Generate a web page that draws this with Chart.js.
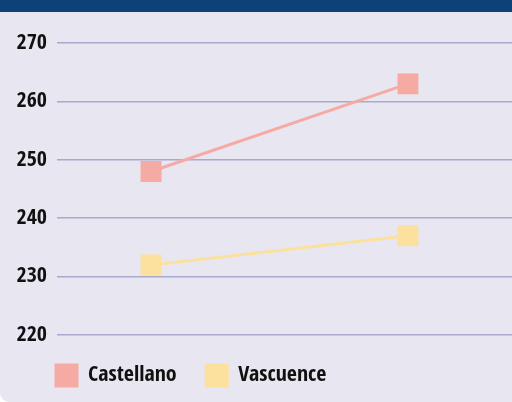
<!DOCTYPE html>
<html>
<head>
<meta charset="utf-8">
<script src="https://cdn.jsdelivr.net/npm/chart.js@4"></script>
<style>
    html, body { margin: 0; padding: 0; background: #ffffff; }
    #wrap {
        position: relative;
        width: 512px;
        height: 402px;
        background: #e8e7f1;
        border-bottom-left-radius: 9px;
        overflow: hidden;
    }
    #topbar {
        position: absolute;
        left: 0; top: 0;
        width: 512px; height: 12px;
        background: #0d4177;
    }
    canvas { position: absolute; left: 0; top: 0; }
</style>
</head>
<body>
<div id="wrap">
    <div id="topbar"></div>
    <canvas id="chart" width="512" height="402"></canvas>
</div>
<script>
// 데이터
const seriesNames = ['Castellano', 'Vascuence'];
const castellano = [248, 263];
const vascuence = [232, 237];
const yTicks = [220, 230, 240, 250, 260, 270];

const colors = ['#f5aba4', '#fce09e'];

const FONT = "'Open Sans Condensed', 'Roboto Condensed', sans-serif";

const ctx = document.getElementById('chart').getContext('2d');

const toPoints = arr => arr.map((v, i) => ({ x: i, y: v }));

// 범례를 왼쪽 여백에서 살짝 안쪽으로 이동
const legendShift = {
    id: 'legendShift',
    afterLayout(chart) {
        if (chart.legend) chart.legend.left = 26.5;
    }
};

new Chart(ctx, {
    type: 'line',
    data: {
        datasets: [castellano, vascuence].map((vals, i) => ({
            label: seriesNames[i],
            data: toPoints(vals),
            borderColor: colors[i],
            backgroundColor: colors[i],
            borderWidth: 3,
            pointStyle: 'rect',
            pointRadius: 14.8,
            pointHoverRadius: 14.8,
            pointBorderWidth: 0,
            fill: false,
            tension: 0
        }))
    },
    plugins: [legendShift],
    options: {
        responsive: false,
        animation: false,
        layout: {
            autoPadding: false,
            padding: { left: 17, right: 0, top: 43, bottom: 5.5 }
        },
        plugins: {
            tooltip: { enabled: false },
            legend: {
                display: true,
                position: 'bottom',
                align: 'start',
                labels: {
                    usePointStyle: false,
                    boxWidth: 21,
                    boxHeight: 21,
                    padding: 29.5,
                    color: '#111111',
                    font: { family: FONT, size: 22, weight: 'bold' }
                }
            }
        },
        scales: {
            x: {
                type: 'linear',
                display: false,
                min: -0.366,
                max: 1.405
            },
            y: {
                min: 220,
                max: 270,
                afterFit: s => { s.width = 40; },
                afterBuildTicks: s => { s.ticks = yTicks.map(v => ({ value: v })); },
                border: { display: false },
                grid: {
                    color: '#a8a9cc',
                    lineWidth: 1.5,
                    drawTicks: false
                },
                ticks: {
                    padding: 10,
                    color: '#111111',
                    font: { family: FONT, size: 22, weight: 'bold' }
                }
            }
        }
    }
});
</script>
</body>
</html>
